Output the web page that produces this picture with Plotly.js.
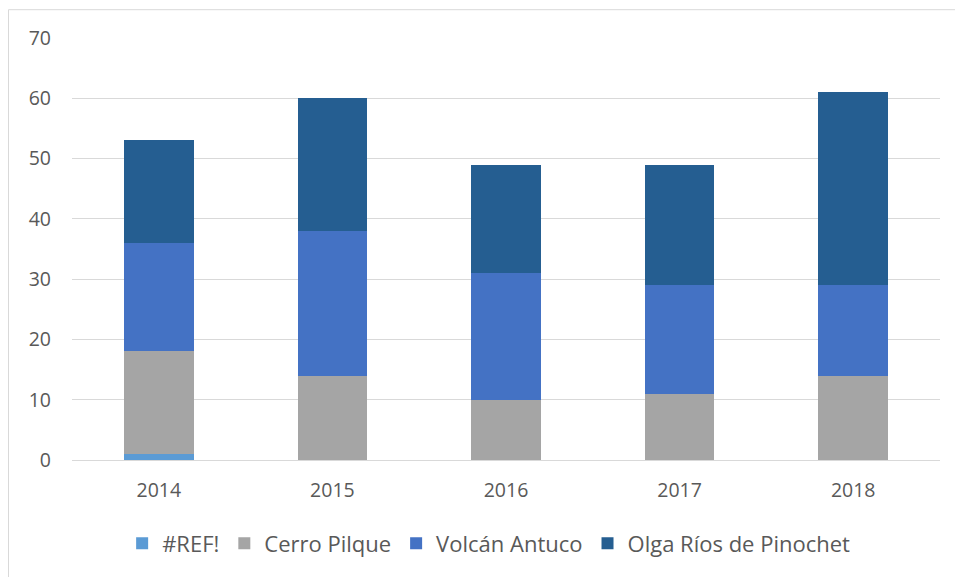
<!DOCTYPE html>
<html><head><meta charset="utf-8">
<script src="https://cdn.plot.ly/plotly-3.0.1.min.js"></script>
<style>html,body{margin:0;padding:0;background:#fff}#chart{width:955px;height:577px}</style>
</head><body><div id="chart"></div>
<script>
const years = ['2014','2015','2016','2017','2018'];
const refVals = [1, 0, 0, 0, 0];
const cerroPilque = [17, 14, 10, 11, 14];
const volcanAntuco = [18, 24, 21, 18, 15];
const olgaRios = [17, 22, 18, 20, 32];
const seriesNames = ['#REF!', 'Cerro Pilque', 'Volcán Antuco', 'Olga Ríos de Pinochet'];
const seriesColors = ['#5B9BD5', '#A5A5A5', '#4472C4', '#255E91'];
const yTicks = [0,10,20,30,40,50,60,70];

const all = [refVals, cerroPilque, volcanAntuco, olgaRios];
const data = all.map((v,i)=>({
  type:'bar', x:years, y:v, name:seriesNames[i],
  marker:{color:seriesColors[i], line:{width:0}},
  hoverinfo:'x+y+name'
}));
const W=955,H=577,L=72,R=15,T=38,B=114;
const pw=W-L-R, ph=H-T-B;
const layout = {
  width:W, height:H, barmode:'stack', bargap:0.6,
  margin:{l:L,r:R,t:T,b:B,pad:0},
  paper_bgcolor:'#fff', plot_bgcolor:'#fff',
  font:{family:'"Open Sans", "Liberation Sans", sans-serif', color:'#595959', size:19},
  xaxis:{type:'category', showgrid:false, showline:true, linecolor:'#d9d9d9', linewidth:1,
    ticks:'', tickfont:{size:19.5, color:'#595959'}, ticklabelstandoff:13, zeroline:false},
  yaxis:{range:[0,70], tickvals:yTicks, showgrid:true, gridcolor:'#d9d9d9', gridwidth:1,
    showline:false, zeroline:false, ticks:'', tickfont:{size:19.5,color:'#595959'}, ticklabelstandoff:20},
  showlegend:true,
  legend:{orientation:'h', x:0.48, xanchor:'center', y:-0.198, yanchor:'middle',
    font:{size:22,color:'#595959'}, traceorder:'normal', itemwidth:22},
  shapes:[{type:'rect', xref:'paper', yref:'paper',
    x0:(8.5-L)/pw, x1:(W+5-L)/pw, y0:(H-B-(H+5))/ph, y1:(H-B-9.5)/ph,
    line:{color:'#d9d9d9', width:1}, fillcolor:'rgba(0,0,0,0)', layer:'below'}]
};
Plotly.newPlot('chart', data, layout, {displayModeBar:false, staticPlot:true});
</script></body></html>
